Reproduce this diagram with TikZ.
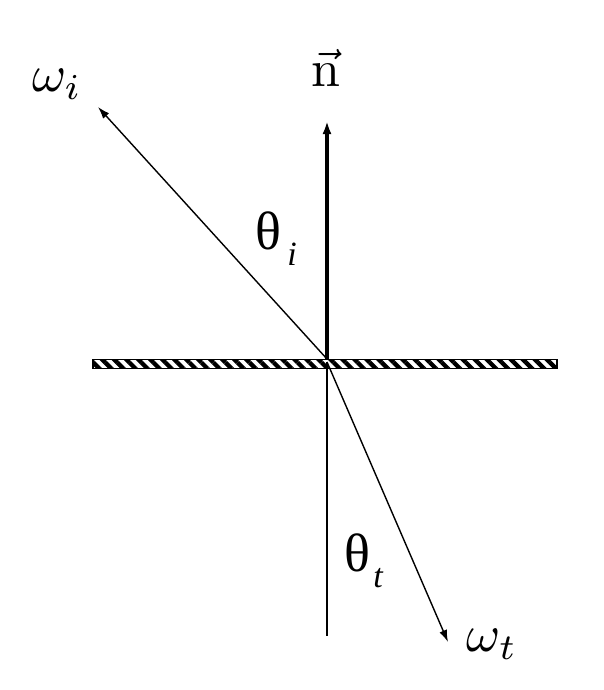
\documentclass[tikz,border=0pt]{standalone}
\usepackage{fontspec}
\newfontfamily\tf{Liberation Serif}
\usetikzlibrary{arrows.meta,patterns.meta}
\begin{document}
\begin{tikzpicture}[x=1pt,y=-1pt,
  ray/.style={line width=1.4pt,-{Latex[length=12pt,width=8pt]}},
  bigmath/.style={inner sep=0pt,scale=5.2},
  thlabel/.style={inner sep=0pt,font=\fontsize{54}{60}\selectfont\tf}]
\useasboundingbox (0,0) rectangle (604,690);
% surface
\node[draw=black,line width=1.4pt,minimum width=464pt,minimum height=9pt,inner sep=0pt,
  pattern={Lines[angle=-45,distance=8.5pt,line width=4.3pt]}] (bar) at (325,364) {};
\coordinate (O) at (327,359);
\coordinate (Ob) at (327,362);
\coordinate (ntip) at (327,121);
\coordinate (itip) at (98,107);
\coordinate (ttip) at (448,642);
\coordinate (bot) at (327,636);
% normal
\draw[line width=3.2pt,-{Latex[length=13pt,width=9pt]}] (O) -- (ntip);
\draw[line width=1.4pt] (Ob) -- (bot);
% rays
\draw[ray] (O) -- (itip);
\draw[ray] (Ob) -- (ttip);
% labels
\node[bigmath] (n) at (326,68) {$\vec{\mathrm{n}}$};
\node[bigmath] (wi) at (57,84) {$\omega_i$};
\node[bigmath] (wt) at (492,644) {$\omega_t$};
\node[thlabel,anchor=center] (thi) at (268,231) {θ};
\node[inner sep=0pt,font=\fontsize{34}{40}\selectfont\tf\itshape] (si) at (292,254) {i};
\node[thlabel,anchor=center] (tht) at (357,553) {θ};
\node[inner sep=0pt,font=\fontsize{34}{40}\selectfont\tf\itshape] (st) at (378,578) {t};
\end{tikzpicture}
\end{document}
